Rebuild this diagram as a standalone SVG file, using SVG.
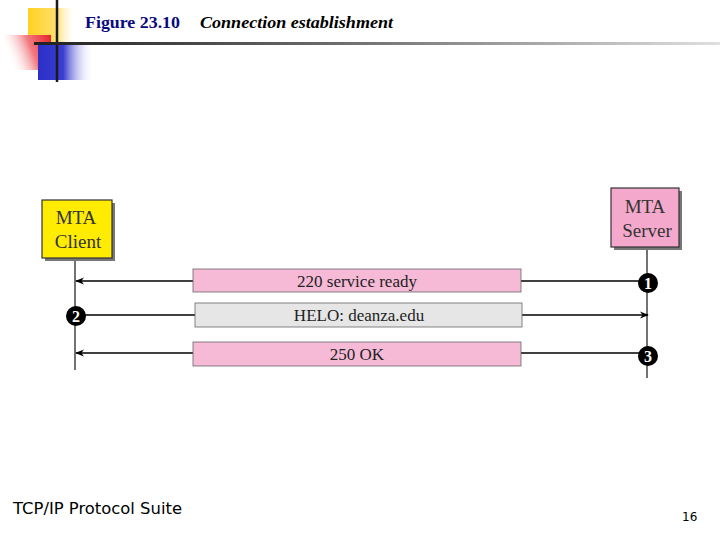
<svg xmlns="http://www.w3.org/2000/svg" width="720" height="540" viewBox="0 0 720 540">
<defs>
<linearGradient id="gy" x1="0" y1="0" x2="1" y2="0"><stop offset="0" stop-color="#FFD21E"/><stop offset="0.6" stop-color="#FFE070"/><stop offset="1" stop-color="#FFFFFF" stop-opacity="0"/></linearGradient>
<linearGradient id="gr" x1="1" y1="0" x2="0" y2="0.3"><stop offset="0" stop-color="#E8202A"/><stop offset="0.5" stop-color="#F27A80"/><stop offset="1" stop-color="#FFFFFF" stop-opacity="0.2"/></linearGradient>
<linearGradient id="gb" x1="0" y1="0" x2="1" y2="0"><stop offset="0" stop-color="#2B2FC8"/><stop offset="0.45" stop-color="#3A3ED0"/><stop offset="1" stop-color="#FFFFFF" stop-opacity="0"/></linearGradient>
<linearGradient id="gl" x1="0" y1="0" x2="1" y2="0"><stop offset="0" stop-color="#202020"/><stop offset="0.5" stop-color="#777777"/><stop offset="1" stop-color="#E0E0E0"/></linearGradient>
<marker id="ah" viewBox="0 0 10 10" refX="9" refY="5" markerWidth="9" markerHeight="9" orient="auto-start-reverse" markerUnits="userSpaceOnUse"><path d="M0,1 L10,5 L0,9 L3,5 Z" fill="#000"/></marker>
<style>
.node rect.box{stroke:#333;stroke-width:1.2}
.shadow{fill:#777}
.nt{font-family:"Liberation Serif",serif;font-size:19px;fill:#333;text-anchor:middle}
.msg{stroke:#666;stroke-width:0.8}
.mt{font-family:"Liberation Serif",serif;font-size:17px;fill:#222;text-anchor:middle}
.life{stroke:#444;stroke-width:1.5}
.arr{stroke:#000;stroke-width:1.3;fill:none}
.num{fill:#000}
.nn{font-family:"Liberation Serif",serif;font-size:16px;font-weight:bold;fill:#fff;text-anchor:middle}
</style>
</defs>
<rect width="720" height="540" fill="#fff"/>
<!-- decoration -->
<rect x="28" y="8" width="48" height="40" fill="url(#gy)"/>
<rect x="5" y="35" width="46" height="35" fill="url(#gr)"/>
<rect x="38" y="45" width="56" height="35" fill="url(#gb)"/>
<line x1="57" y1="0" x2="57" y2="82" stroke="#1a1a1a" stroke-width="2.5"/>
<rect x="34" y="42" width="686" height="3" fill="url(#gl)"/>
<text x="85" y="28" font-family="Liberation Serif,serif" font-size="17" font-weight="bold" fill="#0A0A80" textLength="95" lengthAdjust="spacingAndGlyphs">Figure 23.10</text>
<text x="200" y="28" font-family="Liberation Serif,serif" font-size="17" font-weight="bold" font-style="italic" fill="#000" textLength="193" lengthAdjust="spacingAndGlyphs">Connection establishment</text>
<!-- lifelines and connectors -->
<g id="connectors">
<line class="life" x1="75" y1="258" x2="75" y2="370"/>
<line class="life" x1="647" y1="247" x2="647" y2="378"/>
<line class="arr" x1="647" y1="281" x2="76" y2="281" marker-end="url(#ah)"/>
<line class="arr" x1="75" y1="315" x2="648" y2="315" marker-end="url(#ah)"/>
<line class="arr" x1="647" y1="353" x2="76" y2="353" marker-end="url(#ah)"/>
</g>
<g id="client" class="node">
<rect class="shadow" x="45" y="203" width="70" height="58"/>
<rect class="box" x="42" y="200" width="70" height="58" fill="#FFEC00"/>
<text class="nt" x="76" y="224">MTA</text>
<text class="nt" x="78" y="248">Client</text>
</g>
<g id="server" class="node">
<rect class="shadow" x="614" y="191" width="68" height="59"/>
<rect class="box" x="611" y="188" width="68" height="59" fill="#F4A9CC"/>
<text class="nt" x="645" y="213">MTA</text>
<text class="nt" x="647" y="237">Server</text>
</g>
<g id="msg1">
<rect class="msg" x="193" y="269" width="328" height="23" fill="#F6BAD7"/>
<text class="mt" x="357" y="287">220 service ready</text>
</g>
<g id="msg2">
<rect class="msg" x="195" y="303" width="327" height="24" fill="#E6E6E6"/>
<text class="mt" x="359" y="321">HELO: deanza.edu</text>
</g>
<g id="msg3">
<rect class="msg" x="193" y="342" width="328" height="24" fill="#F6BAD7"/>
<text class="mt" x="357" y="360">250 OK</text>
</g>
<g id="n1"><circle class="num" cx="648" cy="283" r="10"/><text class="nn" x="648" y="288.5">1</text></g>
<g id="n2"><circle class="num" cx="76" cy="316" r="10"/><text class="nn" x="76" y="321.5">2</text></g>
<g id="n3"><circle class="num" cx="648" cy="356" r="10"/><text class="nn" x="648" y="361.5">3</text></g>
<text x="13" y="514" font-family="DejaVu Sans,sans-serif" font-size="15" fill="#000" textLength="169" lengthAdjust="spacingAndGlyphs">TCP/IP Protocol Suite</text>
<text x="682" y="521" font-family="DejaVu Sans,sans-serif" font-size="12" fill="#000">16</text>
</svg>
